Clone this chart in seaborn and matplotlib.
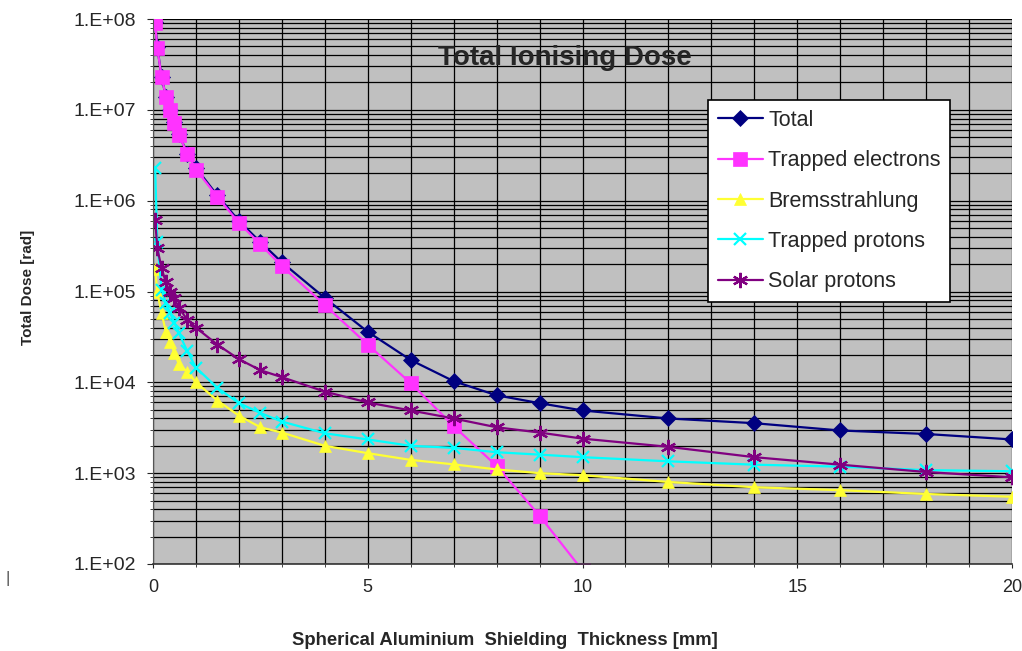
import numpy as np
import pandas as pd
import matplotlib
matplotlib.use('Agg')
from matplotlib import pyplot as plt
from matplotlib.ticker import LogLocator, MultipleLocator, FixedLocator, FuncFormatter, NullFormatter
import seaborn as sns

# Epaisseurs d'aluminium (mm) et doses (rad)
thickness_mm = [0.05, 0.1, 0.2, 0.3, 0.4, 0.5, 0.6, 0.8, 1.0, 1.5, 2.0, 2.5, 3.0,
                4.0, 5.0, 6.0, 7.0, 8.0, 9.0, 10.0, 12.0, 14.0, 16.0, 18.0, 20.0]
total = [9.3e7, 4.9e7, 2.3e7, 1.4e7, 1.0e7, 7.3e6, 5.4e6, 3.3e6, 2.3e6, 1.14e6, 6.0e5, 3.5e5, 2.1e5,
         8.5e4, 3.6e4, 1.76e4, 1.03e4, 7.2e3, 5.9e3, 4.9e3, 4.0e3, 3.55e3, 2.95e3, 2.7e3, 2.35e3]
trapped_electrons = [9.0e7, 4.8e7, 2.3e7, 1.4e7, 1.0e7, 7.2e6, 5.3e6, 3.3e6, 2.2e6, 1.1e6, 5.7e5, 3.3e5, 1.9e5,
                     7.1e4, 2.6e4, 9.8e3, 3.3e3, 1.2e3, 340, 85, np.nan, np.nan, np.nan, np.nan, np.nan]
bremsstrahlung = [1.77e5, 9.8e4, 5.8e4, 3.6e4, 2.8e4, 2.1e4, 1.6e4, 1.3e4, 1.0e4, 6.3e3, 4.3e3, 3.2e3, 2.8e3,
                  2.0e3, 1.66e3, 1.4e3, 1.25e3, 1.1e3, 1.0e3, 950, 800, 700, 650, 590, 550]
trapped_protons = [2.3e6, 3.5e5, 1.05e5, 7.4e4, 5.8e4, 4.5e4, 3.5e4, 2.2e4, 1.45e4, 8.7e3, 5.9e3, 4.6e3, 3.7e3,
                   2.75e3, 2.35e3, 2.0e3, 1.9e3, 1.7e3, 1.6e3, 1.5e3, 1.35e3, 1.24e3, 1.18e3, 1.08e3, 1.05e3]
solar_protons = [6.2e5, 3.0e5, 1.8e5, 1.26e5, 9.8e4, 8.5e4, 6.6e4, 4.9e4, 4.0e4, 2.6e4, 1.8e4, 1.36e4, 1.14e4,
                 7.9e3, 6.0e3, 4.9e3, 4.0e3, 3.2e3, 2.8e3, 2.4e3, 1.95e3, 1.5e3, 1.24e3, 1.03e3, 900]

dose_ticks = [1e2, 1e3, 1e4, 1e5, 1e6, 1e7, 1e8]

series_names = ['Total', 'Trapped electrons', 'Bremsstrahlung', 'Trapped protons', 'Solar protons']
series_values = [total, trapped_electrons, bremsstrahlung, trapped_protons, solar_protons]
colors = ['#000080', '#ff33ff', '#ffff33', '#00ffff', '#800080']
markers = ['D', 's', '^', 'x', (6, 2, 0)]
marker_sizes = [8, 10, 9, 9, 11]

df = pd.concat([pd.DataFrame({'thickness': thickness_mm, 'dose': v, 'source': n})
                for n, v in zip(series_names, series_values)], ignore_index=True)

sns.set_style('ticks')
plt.rcParams['font.family'] = ['Liberation Sans', 'DejaVu Sans']

fig = plt.figure(figsize=(10.22, 6.51), dpi=100)
ax = fig.add_axes([153 / 1022, 1 - 564 / 651, 859 / 1022, 545 / 651])
ax.set_facecolor('#c0c0c0')

for name, color, marker, ms in zip(series_names, colors, markers, marker_sizes):
    sub = df[df['source'] == name].dropna()
    sns.lineplot(data=sub, x='thickness', y='dose', ax=ax, color=color, marker=marker,
                 markersize=ms, markeredgecolor=color,
                 markeredgewidth=1.6 if marker in ('x', (6, 2, 0)) else 0.5,
                 linewidth=1.6, label=name, estimator=None)

ax.set_yscale('log')
ax.set_xlim(0, 20)
ax.set_ylim(1e2, 1e8)

ax.xaxis.set_major_locator(MultipleLocator(5))
ax.xaxis.set_minor_locator(MultipleLocator(1))
ax.yaxis.set_major_locator(FixedLocator(dose_ticks))
ax.yaxis.set_minor_locator(LogLocator(base=10, subs=np.arange(2, 10)))
ax.yaxis.set_minor_formatter(NullFormatter())
ax.yaxis.set_major_formatter(FuncFormatter(lambda v, p: '1.E+%02d' % int(round(np.log10(v)))))

ax.set_axisbelow(True)
ax.grid(which='both', color='black', linewidth=0.9)

for side in ['top', 'right']:
    ax.spines[side].set_visible(False)
ax.spines['left'].set_color('#555555')
ax.spines['bottom'].set_color('#333333')
ax.spines['bottom'].set_linewidth(1.2)

ax.tick_params(axis='y', which='major', length=4, labelsize=14, pad=8)
ax.tick_params(axis='y', which='minor', length=2.5)
ax.tick_params(axis='x', which='major', length=3, labelsize=13, pad=8)
ax.tick_params(axis='x', which='minor', length=2)

ax.set_xlabel('Spherical Aluminium  Shielding  Thickness [mm]', fontsize=13.3, fontweight='bold')
ax.xaxis.set_label_coords(0.41, -0.125)
ax.xaxis.label.set_va('top')
ax.set_ylabel('Total Dose [rad]', fontsize=11, fontweight='bold')
ax.yaxis.set_label_coords(-0.137, 0.508)

ax.text(0.48, 0.9156, 'Total Ionising Dose', transform=ax.transAxes, ha='center', va='baseline',
        fontsize=20, fontweight='bold')

leg = ax.legend(loc='upper left', bbox_to_anchor=(0.646, 0.851), borderaxespad=0, fontsize=15.5,
                frameon=True, fancybox=False, framealpha=1, edgecolor='black',
                handlelength=2.1, handletextpad=0.25, labelspacing=0.9, borderpad=0.45)
leg.get_frame().set_linewidth(1.2)

fig.text(8 / 1022, 1 - 578 / 651, '|', fontsize=12, color='#555555', ha='center', va='center')

fig.savefig('out.png', dpi=100, facecolor='white')
